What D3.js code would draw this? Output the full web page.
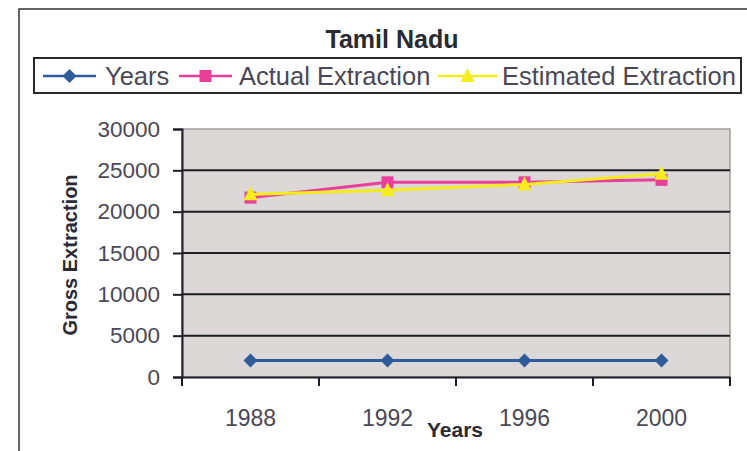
<!DOCTYPE html>
<html>
<head>
<meta charset="utf-8">
<script src="https://cdn.jsdelivr.net/npm/d3@7"></script>
<style>
  body { margin: 0; background: #fff; }
  text { font-family: "Liberation Sans", Arial, sans-serif; }
</style>
</head>
<body>
<svg id="chart" width="747" height="451"></svg>
<script>
'use strict';

var years = ['1988', '1992', '1996', '2000'];
var yearValues = [1988, 1992, 1996, 2000];
var actualExtraction = [21700, 23550, 23550, 23850];
var estimatedExtraction = [22100, 22600, 23300, 24600];
var yTicks = [0, 5000, 10000, 15000, 20000, 25000, 30000];

var PLOT = { LEFT: 182, RIGHT: 730, TOP: 129, BOTTOM: 377 };

var series = [
    { name: 'Years', values: yearValues, color: '#2f5a9c', marker: 'diamond' },
    { name: 'Actual Extraction', values: actualExtraction, color: '#e8409a', marker: 'square' },
    { name: 'Estimated Extraction', values: estimatedExtraction, color: '#f4ec1c', marker: 'triangle' }
];

var svg = d3.select('#chart');

// chart frame (runs off the right/bottom edge like the scan)
svg.append('rect')
    .attr('x', 19).attr('y', 9)
    .attr('width', 800).attr('height', 500)
    .attr('fill', '#fff')
    .attr('stroke', '#333')
    .attr('stroke-width', 1.5);

var x = d3.scaleBand()
    .domain(years)
    .range([PLOT.LEFT, PLOT.RIGHT]);

var y = d3.scaleLinear()
    .domain([0, 30000])
    .range([PLOT.BOTTOM, PLOT.TOP]);

// plot area
svg.append('rect')
    .attr('x', PLOT.LEFT).attr('y', PLOT.TOP)
    .attr('width', PLOT.RIGHT - PLOT.LEFT)
    .attr('height', PLOT.BOTTOM - PLOT.TOP)
    .attr('fill', '#ddd8d8')
    .attr('stroke', '#a09c9c')
    .attr('stroke-width', 1.5);

// gridlines
svg.append('g')
    .selectAll('line')
    .data(yTicks.slice(1, -1))
    .enter()
    .append('line')
    .attr('x1', PLOT.LEFT).attr('x2', PLOT.RIGHT)
    .attr('y1', function(d) { return y(d); })
    .attr('y2', function(d) { return y(d); })
    .attr('stroke', '#1e1e22')
    .attr('stroke-width', 2);

// y axis
var yAxis = d3.axisLeft(y)
    .tickValues(yTicks)
    .tickSize(9)
    .tickPadding(13)
    .tickFormat(d3.format('d'));

var yg = svg.append('g')
    .attr('transform', 'translate(' + PLOT.LEFT + ',0)')
    .call(yAxis);
yg.select('.domain').attr('stroke', '#1e1e28').attr('stroke-width', 2);
yg.selectAll('.tick line').attr('stroke', '#1e1e28').attr('stroke-width', 2);
yg.selectAll('.tick text')
    .attr('fill', '#4a4858')
    .style('font-size', '22.5px')
    .style('font-family', '"Liberation Sans", Arial, sans-serif');

// x axis: ticks sit on the category boundaries, labels at centres
var xAxis = d3.axisBottom(x).tickSize(0).tickPadding(33);
var xg = svg.append('g')
    .attr('transform', 'translate(0,' + PLOT.BOTTOM + ')')
    .call(xAxis);
xg.select('.domain').attr('stroke', '#1e1e28').attr('stroke-width', 2);
xg.selectAll('.tick text')
    .attr('fill', '#4a4858')
    .style('font-size', '23px')
    .style('font-family', '"Liberation Sans", Arial, sans-serif');

var boundaries = years.map(function(d) { return x(d); }).concat([x.range()[1]]);
xg.selectAll('line.cat')
    .data(boundaries)
    .enter()
    .append('line')
    .attr('class', 'cat')
    .attr('x1', function(d) { return d; })
    .attr('x2', function(d) { return d; })
    .attr('y1', 0).attr('y2', 9)
    .attr('stroke', '#1e1e28')
    .attr('stroke-width', 2);

function cx(i) { return x(years[i]) + x.bandwidth() / 2; }

function drawMarker(sel, type, color) {
    if (type === 'diamond') {
        sel.append('path').attr('d', 'M0,-7L7,0L0,7L-7,0Z').attr('fill', color);
    } else if (type === 'square') {
        sel.append('rect').attr('x', -6).attr('y', -6).attr('width', 12).attr('height', 12).attr('fill', color);
    } else {
        sel.append('path').attr('d', 'M0,-8L7,6L-7,6Z').attr('fill', color);
    }
}

var line = d3.line()
    .x(function(d, i) { return cx(i); })
    .y(function(d) { return y(d); });

series.forEach(function(s) {
    var g = svg.append('g').attr('class', 'series');
    g.append('path')
        .attr('d', line(s.values))
        .attr('fill', 'none')
        .attr('stroke', s.color)
        .attr('stroke-width', 3);
    g.selectAll('g.pt')
        .data(s.values)
        .enter()
        .append('g')
        .attr('class', 'pt')
        .attr('transform', function(d, i) { return 'translate(' + cx(i) + ',' + y(d) + ')'; })
        .each(function() { drawMarker(d3.select(this), s.marker, s.color); });
});

// titles
svg.append('text')
    .attr('x', 392).attr('y', 48)
    .attr('text-anchor', 'middle')
    .attr('fill', '#2a2a30')
    .style('font-size', '25px')
    .style('font-weight', 'bold')
    .text('Tamil Nadu');

svg.append('text')
    .attr('transform', 'translate(77,255) rotate(-90)')
    .attr('text-anchor', 'middle')
    .attr('fill', '#2a2a36')
    .style('font-size', '20px')
    .style('font-weight', 'bold')
    .text('Gross Extraction');

svg.append('text')
    .attr('x', 455).attr('y', 437)
    .attr('text-anchor', 'middle')
    .attr('fill', '#2a2a36')
    .style('font-size', '21px')
    .style('font-weight', 'bold')
    .text('Years');

// legend
var legend = svg.append('g');
legend.append('rect')
    .attr('x', 34).attr('y', 58)
    .attr('width', 707).attr('height', 35)
    .attr('fill', '#fff')
    .attr('stroke', '#2a2a2a')
    .attr('stroke-width', 2);

var legendX = [43, 179, 438];
var legendTextX = [105, 239, 502];
var legendLineW = [53, 53, 59];

series.forEach(function(s, i) {
    var item = legend.append('g');
    item.append('line')
        .attr('x1', legendX[i]).attr('x2', legendX[i] + legendLineW[i])
        .attr('y1', 76).attr('y2', 76)
        .attr('stroke', s.color)
        .attr('stroke-width', 2.5);
    item.append('g')
        .attr('transform', 'translate(' + (legendX[i] + legendLineW[i] / 2) + ',76)')
        .call(function(sel) { drawMarker(sel, s.marker, s.color); });
    item.append('text')
        .attr('x', legendTextX[i]).attr('y', 85)
        .attr('fill', '#4a4858')
        .style('font-size', '25.5px')
        .text(s.name);
});
</script>
</body>
</html>
